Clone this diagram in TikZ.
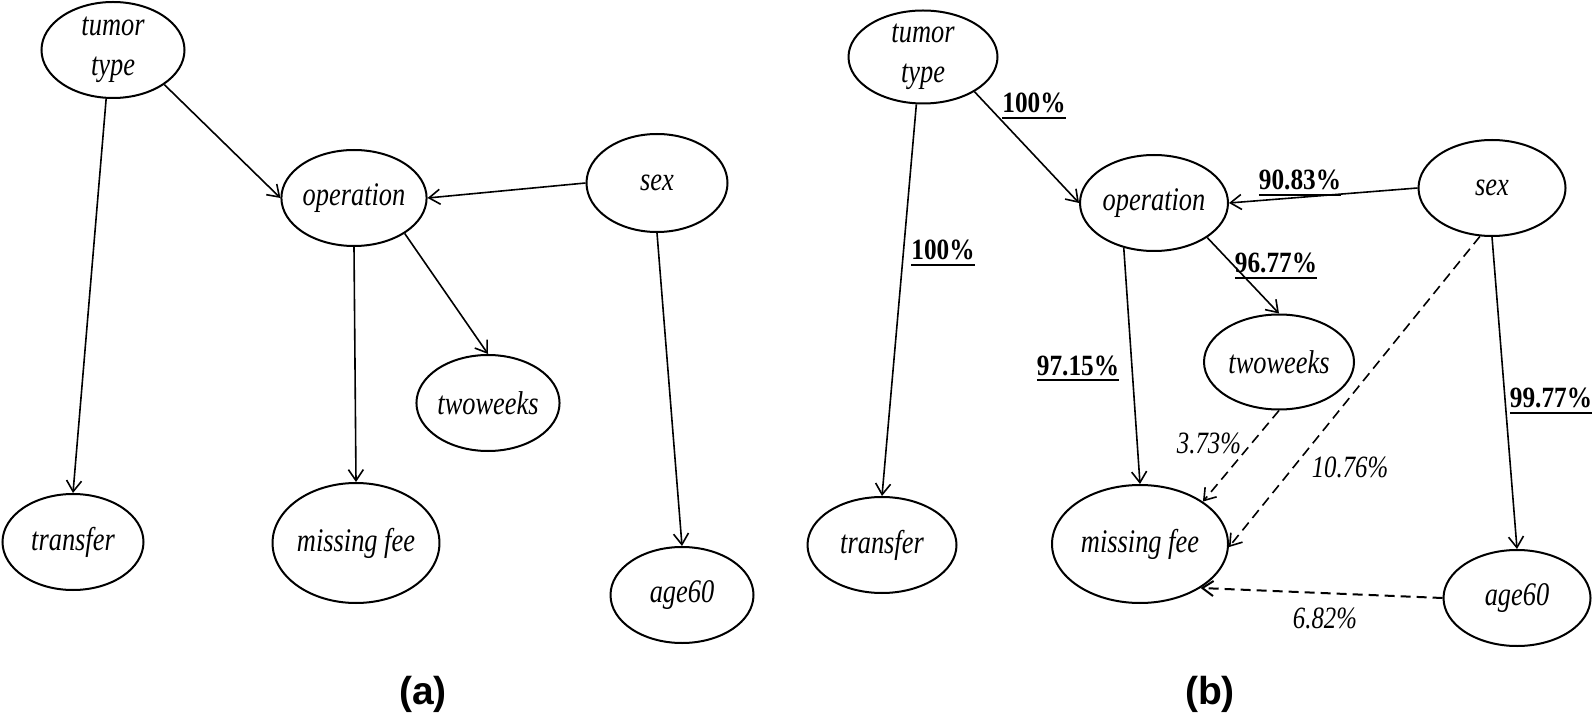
\documentclass[tikz,border=0pt]{standalone}
\usepackage{fontspec}
\setmainfont{Liberation Serif}
\newfontfamily\nodefont[FakeStretch=0.8]{Liberation Serif}
\newfontfamily\labfont[FakeStretch=0.86]{Liberation Serif}
\newfontfamily\panelfont{Liberation Sans}
\usetikzlibrary{arrows.meta,shapes.geometric}
\newcommand\ulbox[1]{\vtop{\hbox{#1}\kern1.6pt\hrule height 1pt}}
\begin{document}
\begin{tikzpicture}[x=0.5pt,y=-0.5pt,
  bn/.style={ellipse,draw,line width=1pt,minimum width=72pt,minimum height=48pt,inner sep=0pt,
    font=\nodefont\itshape\fontsize{16.5}{20}\selectfont,align=center},
  edge/.style={line width=0.8pt,-{Straight Barb[length=5.5pt,width=7.5pt]}},
  weak/.style={edge,dash pattern=on 5pt off 3pt},
  strong/.style={font=\labfont\bfseries\fontsize{14.7}{17}\selectfont,inner sep=0pt,anchor=base},
  weaklab/.style={font=\nodefont\itshape\fontsize{15.5}{18}\selectfont,inner sep=0pt,anchor=base},
  panel/.style={font=\panelfont\bfseries\fontsize{19.5}{23}\selectfont,inner sep=0pt}
]
\useasboundingbox (0,0) rectangle (1594,716);
% ---------- panel (a)
\node[bn,minimum width=71.5pt] (att) at (113,50) {tumor\\type};
\node[bn,minimum width=70.5pt] (aop) at (354,198) {operation};
\node[bn,minimum width=70.5pt,minimum height=49pt] (asex) at (657,183) {sex};
\node[bn,minimum width=70.5pt] (atw) at (488,403) {twoweeks};
\node[bn,minimum width=70.5pt] (atr) at (73,542) {transfer};
\node[bn,minimum width=82pt,minimum height=60pt] (amf) at (356,543) {missing fee};
\node[bn,minimum width=71.5pt] (aage) at (682,595) {age60};
\draw[edge] (att.-34) -- (aop.west);
\draw[edge] (asex.west) -- (aop.east);
\draw[edge] (aop.-35) -- (atw.north);
\draw[edge] (att.-98) -- (atr.north);
\draw[edge] (aop.south) -- (amf.north);
\draw[edge] (asex.south) -- (aage.north);
\node[panel] (pa) at (423,694) {(a)};
% ---------- panel (b)
\node[bn,minimum width=74.5pt,minimum height=46.5pt] (btt) at (923,57) {tumor\\type};
\node[bn,minimum width=74pt] (bop) at (1154,203) {operation};
\node[bn,minimum width=73.5pt] (bsex) at (1492,188) {sex};
\node[bn,minimum width=75pt,minimum height=47.5pt] (btw) at (1279,362) {twoweeks};
\node[bn,minimum width=74.5pt] (btr) at (882,545) {transfer};
\node[bn,minimum width=88pt,minimum height=59pt] (bmf) at (1140,544) {missing fee};
\node[bn,minimum width=73.5pt] (bage) at (1517,598) {age60};
\draw[edge] (btt.-34) -- (bop.west);
\draw[edge] (btt.-98) -- (btr.north);
\draw[edge] (bsex.west) -- (bop.east);
\draw[edge] (bop.-33) -- (btw.north);
\draw[edge] (bop.-124) -- (bmf.north);
\draw[edge] (bsex.south) -- (bage.north);
\draw[weak] (btw.south) -- (bmf.34);
\draw[weak] (bsex.-104) -- (bmf.-2);
\draw[weak,line width=1pt] (bage.west) -- (bmf.-36);
\node[strong] (l1) at (1034,113) {\ulbox{100\%}};
\node[strong] (l2) at (943,260) {\ulbox{100\%}};
\node[strong] (l3) at (1300,190) {\ulbox{90.83\%}};
\node[strong] (l4) at (1276,273) {\ulbox{96.77\%}};
\node[strong] (l5) at (1078,375) {\ulbox{97.15\%}};
\node[strong] (l6) at (1551,408) {\ulbox{99.77\%}};
\node[weaklab] (w1) at (1209,453) {3.73\%};
\node[weaklab] (w2) at (1350,477) {10.76\%};
\node[weaklab] (w3) at (1325,628) {6.82\%};
\node[panel] (pb) at (1210,694) {(b)};
\end{tikzpicture}
\end{document}
